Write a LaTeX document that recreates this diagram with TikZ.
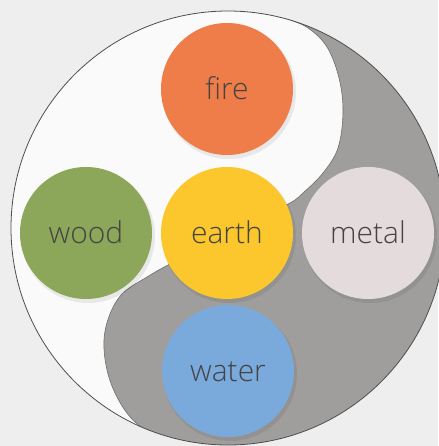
\documentclass[tikz,border=0pt]{standalone}
\usepackage{fontspec}
\setmainfont{Open Sans}[UprightFont={* Light}]
\definecolor{bg}{HTML}{EEEEEE}
\definecolor{yinwhite}{HTML}{FAFAFA}
\definecolor{yingray}{HTML}{A09E9C}
\definecolor{edgecol}{HTML}{6E6E6E}
\definecolor{outcol}{HTML}{4E4E4E}
\definecolor{firec}{HTML}{EE7D4A}
\definecolor{woodc}{HTML}{8CA75A}
\definecolor{earthc}{HTML}{FCC72C}
\definecolor{metalc}{HTML}{E4DCDC}
\definecolor{waterc}{HTML}{7AA9DB}
\definecolor{txt}{HTML}{444444}
\begin{document}
\begin{tikzpicture}[x=1pt,y=-1pt,
  elem/.style={circle, minimum size=132pt, inner sep=0pt, draw=none,
    font=\fontsize{30}{32}\selectfont, text=txt,
    text height=21pt, text depth=0pt},
  shade/.style={fill=black, opacity=0.07},
  outline/.style={draw=outcol, line width=0.8pt},
  sedge/.style={draw=edgecol, line width=0.6pt}]
\useasboundingbox (0,0) rectangle (438,446);
\fill[bg] (0,0) rectangle (438,446);
\coordinate (C) at (228,228);
\fill[yinwhite] (C) circle[radius=217pt];
\begin{scope}
  \clip (C) circle[radius=217pt];
  \fill[yingray] plot[smooth, tension=0.6] coordinates {(255,8) (285,18) (308,28) (327,47) (339,78) (343,112) (338,148) (323,173) (303,193) (290,203) (258,218) (228,233) (198,250) (168,265) (147,277) (123,293) (110,314) (104,340) (107,370) (117,397) (133,420) (157,437) (185,448) (215,455)} -- (470,470) -- (470,-20) -- cycle;
  \draw[sedge] plot[smooth, tension=0.6] coordinates {(255,8) (285,18) (308,28) (327,47) (339,78) (343,112) (338,148) (323,173) (303,193) (290,203) (258,218) (228,233) (198,250) (168,265) (147,277) (123,293) (110,314) (104,340) (107,370) (117,397) (133,420) (157,437) (185,448) (215,455)};
\end{scope}
\draw[outline] (C) circle[radius=217pt];
% soft shadows
\fill[shade] (229,92) circle[radius=67pt];
\fill[shade] (88,236) circle[radius=67pt];
\fill[shade] (229,236) circle[radius=67pt];
\fill[shade] (370,236) circle[radius=67pt];
\fill[shade] (230,374) circle[radius=67pt];
% elements
\node[elem, fill=firec] (fire) at (227,89) {fire};
\node[elem, fill=woodc] (wood) at (86,233) {wood};
\node[elem, fill=earthc] (earth) at (227,233) {earth};
\node[elem, fill=metalc] (metal) at (368,233) {metal};
\node[elem, fill=waterc] (water) at (228,371) {water};
\end{tikzpicture}
\end{document}
